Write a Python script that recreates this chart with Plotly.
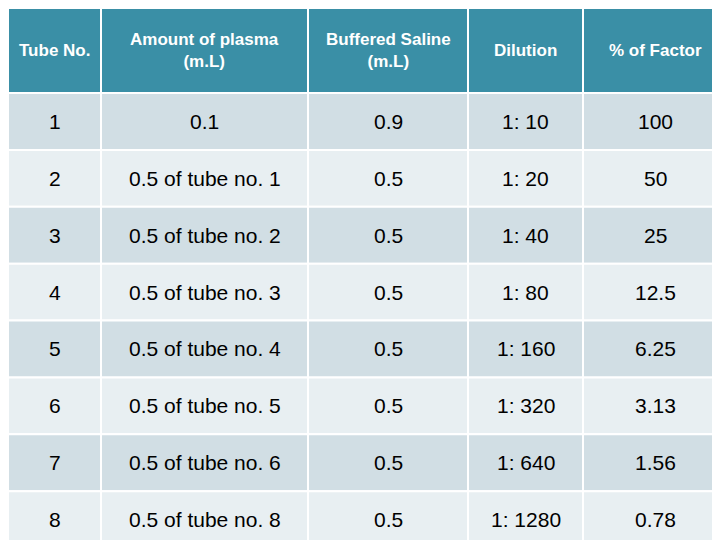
import plotly.graph_objects as go

headers = ["<b>Tube No.</b>", "<b>Amount of plasma<br>(m.L)</b>", "<b>Buffered Saline<br>(m.L)</b>",
           "<b>Dilution</b>", "<b>% of Factor</b>"]
tube_no = ["1", "2", "3", "4", "5", "6", "7", "8"]
plasma = ["0.1", "0.5 of tube no. 1", "0.5 of tube no. 2", "0.5 of tube no. 3",
          "0.5 of tube no. 4", "0.5 of tube no. 5", "0.5 of tube no. 6", "0.5 of tube no. 8"]
saline = ["0.9", "0.5", "0.5", "0.5", "0.5", "0.5", "0.5", "0.5"]
dilution = ["1: 10", "1: 20", "1: 40", "1: 80", "1: 160", "1: 320", "1: 640", "1: 1280"]
factor = ["100", "50", "25", "12.5", "6.25", "3.13", "1.56", "0.78"]

columns = [tube_no, plasma, saline, dilution, factor]
col_edges = [0, 93, 300, 460, 575, 720]
header_h = 85
n_rows = len(tube_no)
row_h = (540 - header_h) / n_rows
FONT = "Liberation Sans, Arial"

fig = go.Figure()
shapes, annotations = [], []
for c in range(len(columns)):
    x0, x1 = col_edges[c], col_edges[c + 1]
    shapes.append(dict(type="rect", x0=x0, x1=x1, y0=0, y1=header_h,
                       fillcolor="#3A8FA6", line=dict(color="white", width=2), layer="below"))
    annotations.append(dict(x=(x0 + x1) / 2, y=header_h / 2, text=headers[c], showarrow=False,
                            font=dict(color="white", size=17, family=FONT)))
    for r in range(n_rows):
        y0 = header_h + r * row_h
        color = "#D1DEE4" if r % 2 == 0 else "#E8EFF2"
        shapes.append(dict(type="rect", x0=x0, x1=x1, y0=y0, y1=y0 + row_h,
                           fillcolor=color, line=dict(color="white", width=2), layer="below"))
        annotations.append(dict(x=(x0 + x1) / 2, y=y0 + row_h / 2, text=columns[c][r],
                                showarrow=False, font=dict(color="black", size=21, family=FONT)))

fig.update_layout(width=720, height=540, margin=dict(l=0, r=0, t=0, b=0),
                  paper_bgcolor="white", plot_bgcolor="white",
                  shapes=shapes, annotations=annotations,
                  xaxis=dict(range=[0, 720], visible=False, fixedrange=True),
                  yaxis=dict(range=[540, 0], visible=False, fixedrange=True),
                  showlegend=False)
fig.write_html("out.html")
